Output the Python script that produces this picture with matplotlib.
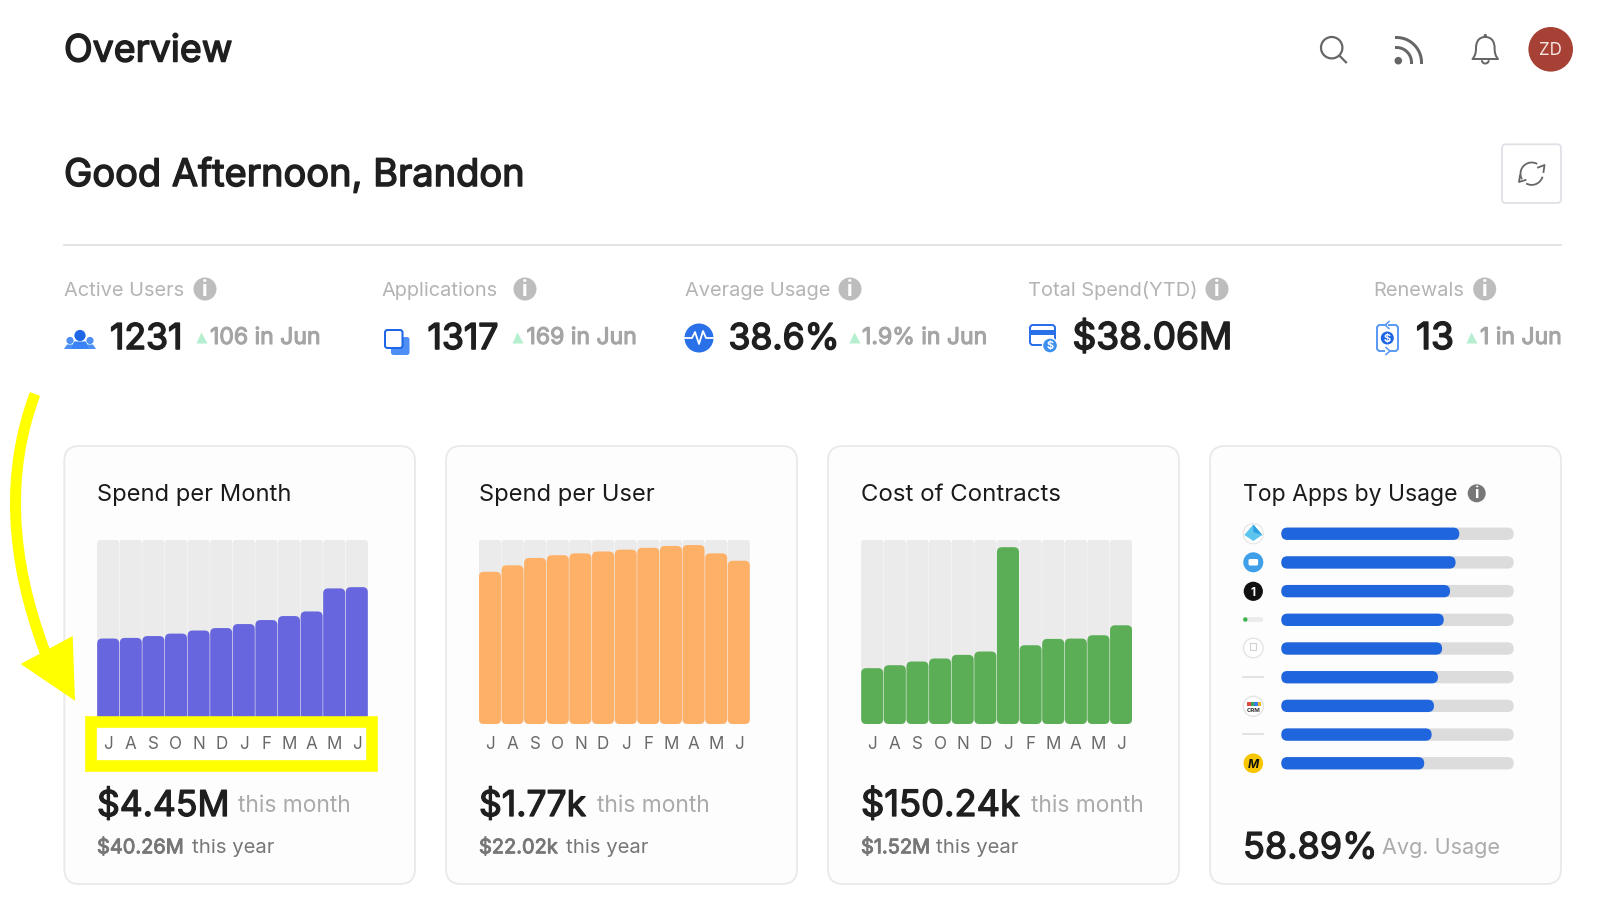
import numpy as np
import matplotlib
matplotlib.use("Agg")
import matplotlib.pyplot as plt
import matplotlib.patheffects as pe
from matplotlib.patches import FancyBboxPatch, Circle, Rectangle, Polygon, PathPatch
from matplotlib.path import Path

plt.rcParams['font.family'] = ['Inter', 'DejaVu Sans']

# chart data
months = ["J", "A", "S", "O", "N", "D", "J", "F", "M", "A", "M", "J"]
spend_per_month = [2.78, 2.80, 2.86, 2.94, 3.04, 3.12, 3.25, 3.38, 3.51, 3.66, 4.41, 4.45]   # $M
spend_per_user = [1.65, 1.72, 1.80, 1.83, 1.85, 1.87, 1.89, 1.91, 1.93, 1.94, 1.85, 1.77]    # $k
cost_of_contracts = [85.0, 89.5, 95.1, 99.7, 105.2, 110.3, 269.1, 119.9, 129.5, 130.0, 135.1, 150.24]  # $k
app_usage = [76.6, 75.0, 72.6, 69.9, 69.2, 67.4, 65.7, 64.7, 61.5]

kpi_names = ["Active Users", "Applications", "Average Usage", "Total Spend(YTD)", "Renewals"]
kpi_values = ["1231", "1317", "38.6%", "$38.06M", "13"]
kpi_changes = ["106 in Jun", "169 in Jun", "1.9% in Jun", "", "1 in Jun"]

card_titles = ["Spend per Month", "Spend per User", "Cost of Contracts", "Top Apps by Usage"]
month_totals = ["$4.45M", "$1.77k", "$150.24k"]
year_totals = ["$40.26M", "$22.02k", "$1.52M"]

W, H = 1600, 923
GREY = "#666666"
DARK = "#1f1f1f"
LIGHT = "#ababab"


def pt(px):
    return px * 0.72


def add_axes_px(x0, y0, x1, y1, z):
    ax = fig.add_axes([x0 / W, 1 - y1 / H, (x1 - x0) / W, (y1 - y0) / H], zorder=z)
    ax.patch.set_alpha(0)
    return ax


def text(x, y, s, size, color=DARK, bold=0.0, **kw):
    # y is the baseline, size in px. bold thickens the glyphs with a stroke
    kw.setdefault("va", "baseline")
    t = bg.text(x, y, s, fontsize=pt(size), color=color, **kw)
    if bold:
        t.set_path_effects([pe.withStroke(linewidth=pt(bold), foreground=color)])
    return t


def rounded(ax, x, y, w, h, r, color, z=2):
    # rounded rectangle in data units of ax, radius r in pixels
    box = ax.get_position()
    xs = box.width * W / abs(ax.get_xlim()[1] - ax.get_xlim()[0])
    ys = box.height * H / abs(ax.get_ylim()[1] - ax.get_ylim()[0])
    p = FancyBboxPatch((x, y), w, h, boxstyle="round,pad=0,rounding_size=%f" % (r / xs),
                       mutation_aspect=xs / ys, fc=color, ec="none", zorder=z)
    ax.add_patch(p)
    return p


def round_bars(ax, bars, r, color, z):
    # swap the square bars for rounded ones with the same geometry
    for b in bars:
        rounded(ax, b.get_x(), b.get_y(), b.get_width(), b.get_height(), r, color, z)
        b.set_visible(False)


def arc(cx, cy, r, a0, a1, n=40):
    a = np.radians(np.linspace(a0, a1, n))
    return cx + r * np.cos(a), cy - r * np.sin(a)


def info(x, y, r, color):
    bg.add_patch(Circle((x, y), r, fc=color, ec="none"))
    bg.text(x, y + 0.5, "i", fontsize=pt(r * 1.8), color="white", ha="center", va="center",
            fontweight="bold")


def month_chart(x0, x1, values, ymax, color):
    ax = add_axes_px(x0 - 0.4, 539.5, x1 + 0.4, 724, 2)
    ax.set_xlim(-0.5, 11.5)
    ax.set_ylim(0, ymax)
    x = np.arange(12)
    round_bars(ax, ax.bar(x, [ymax] * 12, 0.985), 4, "#ebebeb", 2)
    round_bars(ax, ax.bar(x, values, 0.975), 5, color, 3)
    ax.set_xticks(x, months)
    ax.set_yticks([])
    ax.tick_params(axis="x", length=0, pad=14.6, labelsize=pt(17), labelcolor="#6a6a6a")
    plt.setp(ax.get_xticklabels(), va="center")
    for s in ax.spines.values():
        s.set_visible(False)
    return ax


fig = plt.figure(figsize=(16, 9.23), dpi=100, facecolor="white")
bg = add_axes_px(0, 0, W, H, 0)
bg.set_xlim(0, W)
bg.set_ylim(H, 0)
bg.axis("off")
fg = add_axes_px(0, 0, W, H, 5)
fg.set_xlim(0, W)
fg.set_ylim(H, 0)
fg.axis("off")

# header
text(64, 61.5, "Overview", 37.5, bold=1.5)
text(64, 186, "Good Afternoon, Brandon", 38, bold=1.5)
bg.plot([64, 1561], [244.5, 244.5], color="#dedede", lw=1.2)

# header icons
bg.add_patch(Circle((1331.7, 47.7), 10.7, fc="none", ec=GREY, lw=pt(2.2)))
bg.plot([1339.5, 1346], [55.7, 62.3], color=GREY, lw=pt(2.2))
bg.add_patch(Circle((1398.3, 60.7), 3.8, fc=GREY, ec="none"))
for r in (15, 25):
    ax_, ay_ = arc(1396.5, 62.5, r, 0, 90)
    bg.plot(ax_, ay_, color=GREY, lw=pt(3))
bell = Path([(1485.3, 37), (1478, 37), (1476, 43), (1476, 48), (1476, 53), (1475, 56), (1472.5, 59),
             (1498, 59), (1495.5, 56), (1494.6, 53), (1494.6, 48), (1494.6, 43), (1492.6, 37), (1485.3, 37)],
            [Path.MOVETO, Path.CURVE4, Path.CURVE4, Path.CURVE4, Path.CURVE4, Path.CURVE4, Path.CURVE4,
             Path.LINETO, Path.CURVE4, Path.CURVE4, Path.CURVE4, Path.CURVE4, Path.CURVE4, Path.CURVE4])
bg.add_patch(PathPatch(bell, fc="none", ec=GREY, lw=pt(2), joinstyle="round"))
bg.add_patch(Circle((1485.3, 35.5), 1.6, fc=GREY, ec="none"))
ax_, ay_ = arc(1485.3, 60, 3.5, 200, 340)
bg.plot(ax_, ay_, color=GREY, lw=pt(2))
bg.add_patch(Circle((1550.7, 49.3), 22.3, fc="#a84135", ec="none"))
text(1550.7, 55.2, "ZD", 17, color="#f6e4e0", ha="center")

# refresh button
bg.add_patch(FancyBboxPatch((1502, 144.3), 59, 58.7, boxstyle="round,pad=0,rounding_size=4",
                            fc="white", ec="#dfe1e6", lw=1.3))
for a0, a1 in ((205, 65), (-20, -115)):
    ax_, ay_ = arc(1531.7, 173.7, 11.2, a0, a1)
    bg.plot(ax_, ay_, color=GREY, lw=pt(1.8))
bg.plot([1538, 1544.5, 1543.5], [167.5, 165, 172], color=GREY, lw=pt(1.8))
bg.plot([1525.5, 1519, 1520], [180, 182, 175.5], color=GREY, lw=pt(1.8))

# kpi row
label_x = [63.5, 381, 685, 1028, 1373]
info_x = [205, 525, 850, 1217, 1484.7]
value_x = [110, 427.5, 728.5, 1072.5, 1416]
value_size = [35.5, 35.5, 35.5, 37, 37]
tri_x = [201, 517, 854, None, 1470.5]
change_x = [210, 526.5, 862, None, 1480]
for i in range(5):
    text(label_x[i], 295.5, kpi_names[i], 20, color="#b4b4b4")
    info(info_x[i], 289, 11.5, "#bdbdbd")
    text(value_x[i], 349, kpi_values[i], value_size[i], bold=1.6)
    if kpi_changes[i]:
        bg.plot(tri_x[i], 336.5, marker="^", ms=pt(11), color="#b5efcf", mec="none")
        text(change_x[i], 344, kpi_changes[i], 23, color="#a5a5a5", bold=1.1)

# kpi icons
bg.add_patch(Circle((70, 340.5), 3.6, fc="#4d8ff5", ec="none"))
bg.add_patch(Circle((90, 340.5), 3.6, fc="#4d8ff5", ec="none"))
bg.add_patch(Polygon([(64, 349), (67, 344.5), (73, 344.5), (75, 349)], fc="#4d8ff5", ec="none"))
bg.add_patch(Polygon([(85, 349), (87, 344.5), (93, 344.5), (96, 349)], fc="#4d8ff5", ec="none"))
bg.add_patch(Polygon([(71, 349), (74, 341.5), (86, 341.5), (89, 349)], fc="#3b82f6", ec="none"))
bg.add_patch(Circle((80, 335.5), 5.6, fc="#1e66e5", ec="none"))

bg.add_patch(FancyBboxPatch((391, 337), 18.5, 18, boxstyle="round,pad=0,rounding_size=2.5", fc="#4d8ff5", ec="none"))
bg.add_patch(FancyBboxPatch((385, 330), 17.5, 18, boxstyle="round,pad=0,rounding_size=2.5",
                            fc="white", ec="#1e66e5", lw=pt(2)))

bg.add_patch(Circle((699, 338), 14.5, fc="#2a70e8", ec="none"))
bg.plot([685, 692, 695, 699, 703, 706, 713], [338, 338, 332, 344, 331, 338, 338], color="white", lw=pt(1.8))

bg.add_patch(FancyBboxPatch((1030, 325), 25, 20, boxstyle="round,pad=0,rounding_size=3",
                            fc="white", ec="#2a70e8", lw=pt(2)))
bg.add_patch(Rectangle((1030, 330), 25, 4.5, fc="#2a70e8", ec="none"))
bg.add_patch(Circle((1050, 345.5), 7.5, fc="#3f8ff0", ec="white", lw=1))
text(1050, 349.5, "$", 11, color="white", ha="center", fontweight="bold")

# renewals icon, two brackets with little arrow tips
bg.plot([1386, 1379, 1377, 1377, 1379, 1384], [325, 325, 327, 349, 351, 351], color="#5b9af5", lw=pt(2))
bg.plot([1389, 1396, 1398, 1398, 1396, 1391], [325, 325, 327, 349, 351, 351], color="#5b9af5", lw=pt(2))
bg.plot([1389, 1385, 1389], [321.5, 325, 328.5], color="#5b9af5", lw=pt(1.6))
bg.plot([1386, 1390, 1386], [347.5, 351, 354.5], color="#5b9af5", lw=pt(1.6))
bg.add_patch(Circle((1387.3, 338), 6.5, fc="#1e66e5", ec="none"))
text(1387.3, 342, "$", 11, color="white", ha="center", fontweight="bold")

# cards
card_x = [(64.3, 415), (446, 797), (828, 1179), (1210, 1561)]
left_x = [97, 479, 861, 1243]
title_size = [23.7, 23.7, 24, 23]
for i, (x0, x1) in enumerate(card_x):
    bg.add_patch(FancyBboxPatch((x0, 446), x1 - x0, 438, boxstyle="round,pad=0,rounding_size=15",
                                fc="#fdfdfd", ec="#e9e9e9", lw=1.3))
    text(left_x[i], 500.7, card_titles[i], title_size[i], color="#1a1a1a")
info(1476.7, 493.3, 9, "#777777")

# white box behind the highlighted months
bg.add_patch(Rectangle((97.3, 727), 269, 34, fc="white", ec="none"))

month_chart(97.3, 367.7, spend_per_month, 6.0, "#6766de")
month_chart(479, 749.7, spend_per_user, 2.0, "#ffb067")
month_chart(861.3, 1132, cost_of_contracts, 280.8, "#5bae55")

# totals under the charts
this_month_x = [238.3, 596.7, 1030.7]
this_year_x = [191.7, 565.7, 936.3]
total_size = [35.5, 35.5, 36.3]
for i in range(3):
    text(left_x[i], 816, month_totals[i], total_size[i], bold=1.3)
    text(this_month_x[i], 812.5, "this month", 22.8, color=LIGHT)
    text(left_x[i], 853.3, year_totals[i], 20, color="#777777", bold=0.9)
    text(this_year_x[i], 853.3, "this year", 20.3, color="#777777")

text(1243, 858.3, "58.89%", 36, bold=1.3)
text(1381.5, 854.5, "Avg. Usage", 21.6, color=LIGHT)

# top apps bars
apps = add_axes_px(1281.3, 519.4, 1513.7, 777.6, 2)
apps.set_xlim(0, 100)
apps.set_ylim(8.5, -0.5)
apps.axis("off")
y = np.arange(len(app_usage))
round_bars(apps, apps.barh(y, [100] * len(app_usage), 0.43), 6.1, "#dcdcdc", 2)
round_bars(apps, apps.barh(y, app_usage, 0.43), 6.1, "#1f66de", 3)

# app logos
ix = 1253.3
bg.add_patch(Circle((ix, 533.7), 10, fc="white", ec="#e8e8e8", lw=1))
bg.add_patch(Polygon([(ix, 524.5), (ix + 9, 535), (ix, 541), (ix - 9, 535)], fc="#5cc4ee", ec="none"))
bg.add_patch(Polygon([(ix, 524.5), (ix + 9, 535), (ix, 532)], fc="#2e9fe0", ec="none"))
bg.add_patch(Circle((ix, 562.3), 10, fc="#3f9fe8", ec="none"))
bg.add_patch(FancyBboxPatch((ix - 4.8, 559), 9.6, 6.5, boxstyle="round,pad=0,rounding_size=1.5", fc="white", ec="none"))
bg.add_patch(Circle((ix, 591.3), 9.6, fc="#111111", ec="none"))
text(ix, 595.5, "1", 12, color="white", ha="center", fontweight="bold")
bg.add_patch(FancyBboxPatch((ix - 10, 617), 20, 5, boxstyle="round,pad=0,rounding_size=2.4", fc="#ececec", ec="none"))
bg.add_patch(Circle((ix - 8, 619.5), 2.2, fc="#38b44a", ec="none"))
bg.add_patch(Circle((ix, 648), 9.8, fc="white", ec="#e4e4e4", lw=1))
bg.add_patch(Rectangle((ix - 3, 643), 6, 7, fc="none", ec="#d2d2d2", lw=0.8))
bg.plot([ix - 10, ix + 10], [676.5, 676.5], color="#dddddd", lw=1.2)
bg.add_patch(Circle((ix, 706.3), 10, fc="white", ec="#e4e4e4", lw=1))
for dx, c in zip((-6, -2.5, 1, 4.5), ("#e0483e", "#35a853", "#3b7de0", "#f0b429")):
    bg.add_patch(Rectangle((ix + dx, 702), 3.2, 3.6, fc=c, ec="none"))
text(ix, 711.5, "CRM", 6, color="#333333", ha="center", fontweight="bold")
bg.plot([ix - 10, ix + 10], [734, 734], color="#dddddd", lw=1.2)
bg.add_patch(Circle((ix, 763.3), 9.8, fc="#f7c600", ec="none"))
text(ix, 767.8, "M", 12, color="#111111", ha="center", fontweight="bold", style="italic")

# yellow highlight
fg.add_patch(Rectangle((91.4, 721.6), 280.2, 44.5, fc="none", ec="#ffff00", lw=pt(11.6)))
shaft = Path([(35, 394), (-8.6, 510), (45, 652)], [Path.MOVETO, Path.CURVE3, Path.CURVE3])
fg.add_patch(PathPatch(shaft, fc="none", ec="#ffff00", lw=pt(11), capstyle="butt"))
fg.add_patch(Polygon([(20.7, 664), (72.7, 636), (75, 700.7)], fc="#ffff00", ec="none"))

fig.savefig("out.png", dpi=100, facecolor="white")
